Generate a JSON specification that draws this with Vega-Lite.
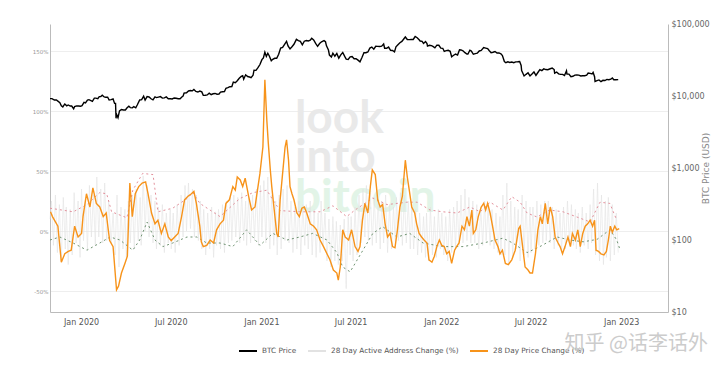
{
"$schema":"https://vega.github.io/schema/vega-lite/v6.json",
"width":618,"height":288,
"autosize":{"type":"none"},
"padding":{"left":50,"top":24,"right":52,"bottom":56},
"background":"white",
"config":{"view":{"stroke":null},"font":"DejaVu Sans"},
"title":{"text":"知乎 @话李话外","orient":"bottom","anchor":"end","frame":"group","font":"Noto Sans CJK SC","fontSize":20,"fontWeight":"normal","color":"#cccccc","dx":40,"dy":-23,"offset":2},
"datasets":{
"wm":[{"t":"look","d":"2021-03-10","v":81.7},{"t":"into","d":"2021-03-10","v":49.2},{"t":"bitcoin","d":"2021-03-10","v":15.8}],
"up":[{"d":"2019-10-30","v":19},{"d":"2019-12-16","v":16},{"d":"2020-01-13","v":22},{"d":"2020-02-08","v":32},{"d":"2020-02-22","v":31},{"d":"2020-03-03","v":16},{"d":"2020-04-03","v":11},{"d":"2020-04-15","v":34},{"d":"2020-05-05","v":48},{"d":"2020-05-26","v":47},{"d":"2020-06-05","v":16},{"d":"2020-07-05","v":19},{"d":"2020-08-03","v":27},{"d":"2020-08-15","v":32},{"d":"2020-08-29","v":23},{"d":"2020-10-09","v":12},{"d":"2020-11-18","v":27},{"d":"2020-12-15","v":32},{"d":"2021-01-12","v":34},{"d":"2021-01-24","v":26},{"d":"2021-02-08","v":17},{"d":"2021-03-20","v":16},{"d":"2021-04-30","v":16},{"d":"2021-05-26","v":21},{"d":"2021-06-23","v":12},{"d":"2021-07-10","v":17.5},{"d":"2021-08-15","v":27.5},{"d":"2021-09-13","v":22},{"d":"2021-10-23","v":24},{"d":"2021-11-13","v":24},{"d":"2021-12-09","v":17.5},{"d":"2022-01-04","v":16},{"d":"2022-02-02","v":15},{"d":"2022-02-28","v":20},{"d":"2022-03-21","v":16},{"d":"2022-04-10","v":24},{"d":"2022-05-06","v":17.5},{"d":"2022-05-24","v":28.6},{"d":"2022-06-10","v":24},{"d":"2022-06-24","v":15},{"d":"2022-07-14","v":11.7},{"d":"2022-08-09","v":17.5},{"d":"2022-09-05","v":16},{"d":"2022-10-03","v":11.7},{"d":"2022-10-30","v":7.5},{"d":"2022-11-19","v":24},{"d":"2022-12-09","v":23},{"d":"2022-12-23","v":9}],
"lo":[{"d":"2019-10-30","v":-7.5},{"d":"2019-11-19","v":-5},{"d":"2019-12-16","v":-10},{"d":"2020-01-13","v":-16},{"d":"2020-02-08","v":-10},{"d":"2020-02-29","v":-5},{"d":"2020-03-20","v":-7.5},{"d":"2020-04-15","v":-16},{"d":"2020-04-29","v":-7.5},{"d":"2020-05-14","v":7.5},{"d":"2020-05-30","v":-7.5},{"d":"2020-06-15","v":-13},{"d":"2020-07-05","v":-10},{"d":"2020-08-03","v":-5},{"d":"2020-08-23","v":-5},{"d":"2020-09-12","v":-10},{"d":"2020-10-09","v":-10},{"d":"2020-11-04","v":-13},{"d":"2020-12-02","v":1},{"d":"2020-12-29","v":-12},{"d":"2021-01-24","v":-2},{"d":"2021-02-22","v":-7.5},{"d":"2021-03-20","v":-5},{"d":"2021-04-15","v":-2},{"d":"2021-05-14","v":-7.5},{"d":"2021-06-03","v":-18},{"d":"2021-06-15","v":-30},{"d":"2021-06-30","v":-34},{"d":"2021-07-26","v":-16},{"d":"2021-08-15","v":-2},{"d":"2021-09-04","v":3.6},{"d":"2021-10-03","v":-5},{"d":"2021-10-29","v":-2},{"d":"2021-11-25","v":-10},{"d":"2022-01-04","v":-13},{"d":"2022-02-14","v":-13},{"d":"2022-03-27","v":-10},{"d":"2022-05-06","v":-6},{"d":"2022-05-26","v":-10},{"d":"2022-06-24","v":-18},{"d":"2022-07-20","v":-13},{"d":"2022-08-24","v":-5},{"d":"2022-09-19","v":-7.5},{"d":"2022-10-16","v":-9},{"d":"2022-11-13","v":-7},{"d":"2022-12-09","v":1},{"d":"2022-12-23","v":-7.5},{"d":"2022-12-30","v":-16}],
"addr":[{"d":"2019-10-30","v":10},
{"d":"2019-11-02","v":25},{"d":"2019-11-06","v":-12},{"d":"2019-11-10","v":30},{"d":"2019-11-14","v":-18},{"d":"2019-11-18","v":22},{"d":"2019-11-22","v":-25},{"d":"2019-11-26","v":28},{"d":"2019-11-30","v":-15},
{"d":"2019-12-02","v":20},{"d":"2019-12-06","v":-28},{"d":"2019-12-10","v":18},{"d":"2019-12-14","v":-20},{"d":"2019-12-18","v":32},{"d":"2019-12-22","v":-10},{"d":"2019-12-26","v":25},{"d":"2019-12-30","v":-22},
{"d":"2020-01-02","v":35},{"d":"2020-01-06","v":-8},{"d":"2020-01-10","v":28},{"d":"2020-01-14","v":-15},{"d":"2020-01-18","v":38},{"d":"2020-01-22","v":-5},{"d":"2020-01-26","v":30},{"d":"2020-01-30","v":-12},
{"d":"2020-02-02","v":45},{"d":"2020-02-06","v":-5},{"d":"2020-02-10","v":35},{"d":"2020-02-14","v":-10},{"d":"2020-02-18","v":40},{"d":"2020-02-22","v":-8},{"d":"2020-02-26","v":25},
{"d":"2020-03-02","v":-10},{"d":"2020-03-06","v":15},{"d":"2020-03-10","v":-20},{"d":"2020-03-14","v":30},{"d":"2020-03-18","v":-30},{"d":"2020-03-22","v":20},{"d":"2020-03-26","v":-15},{"d":"2020-03-30","v":18},
{"d":"2020-04-02","v":-22},{"d":"2020-04-06","v":25},{"d":"2020-04-10","v":-10},{"d":"2020-04-14","v":30},{"d":"2020-04-18","v":-15},{"d":"2020-04-22","v":35},{"d":"2020-04-26","v":-8},{"d":"2020-04-30","v":28},
{"d":"2020-05-02","v":-12},{"d":"2020-05-06","v":46},{"d":"2020-05-10","v":0},{"d":"2020-05-14","v":38},{"d":"2020-05-18","v":-5},{"d":"2020-05-22","v":30},{"d":"2020-05-26","v":-10},{"d":"2020-05-30","v":25},
{"d":"2020-06-02","v":-15},{"d":"2020-06-06","v":20},{"d":"2020-06-10","v":-12},{"d":"2020-06-14","v":22},{"d":"2020-06-18","v":-18},{"d":"2020-06-22","v":15},{"d":"2020-06-26","v":-10},{"d":"2020-06-30","v":18},
{"d":"2020-07-02","v":-15},{"d":"2020-07-06","v":15},{"d":"2020-07-10","v":-18},{"d":"2020-07-14","v":22},{"d":"2020-07-18","v":-12},{"d":"2020-07-22","v":30},{"d":"2020-07-26","v":-5},{"d":"2020-07-30","v":38},
{"d":"2020-08-02","v":0},{"d":"2020-08-06","v":40},{"d":"2020-08-10","v":2},{"d":"2020-08-14","v":35},{"d":"2020-08-18","v":-5},{"d":"2020-08-22","v":30},{"d":"2020-08-26","v":-8},{"d":"2020-08-30","v":25},
{"d":"2020-09-02","v":-15},{"d":"2020-09-06","v":18},{"d":"2020-09-10","v":-20},{"d":"2020-09-14","v":15},{"d":"2020-09-18","v":-15},{"d":"2020-09-22","v":20},{"d":"2020-09-26","v":-22},{"d":"2020-09-30","v":16},
{"d":"2020-10-02","v":-12},{"d":"2020-10-06","v":18},{"d":"2020-10-10","v":-15},{"d":"2020-10-14","v":22},{"d":"2020-10-18","v":-18},{"d":"2020-10-22","v":25},{"d":"2020-10-26","v":-10},{"d":"2020-10-30","v":28},
{"d":"2020-11-02","v":-8},{"d":"2020-11-06","v":30},{"d":"2020-11-10","v":-5},{"d":"2020-11-14","v":28},{"d":"2020-11-18","v":-10},{"d":"2020-11-22","v":32},{"d":"2020-11-26","v":-8},{"d":"2020-11-30","v":25},
{"d":"2020-12-02","v":-12},{"d":"2020-12-06","v":28},{"d":"2020-12-10","v":-10},{"d":"2020-12-14","v":30},{"d":"2020-12-18","v":-8},{"d":"2020-12-22","v":35},{"d":"2020-12-26","v":-12},{"d":"2020-12-30","v":38},
{"d":"2021-01-02","v":-5},{"d":"2021-01-06","v":42},{"d":"2021-01-10","v":-10},{"d":"2021-01-14","v":45},{"d":"2021-01-18","v":-15},{"d":"2021-01-22","v":30},{"d":"2021-01-26","v":-12},{"d":"2021-01-30","v":25},
{"d":"2021-02-02","v":-20},{"d":"2021-02-06","v":30},{"d":"2021-02-10","v":-15},{"d":"2021-02-14","v":35},{"d":"2021-02-18","v":-8},{"d":"2021-02-22","v":38},{"d":"2021-02-26","v":-10},
{"d":"2021-03-02","v":25},{"d":"2021-03-06","v":-18},{"d":"2021-03-10","v":20},{"d":"2021-03-14","v":-15},{"d":"2021-03-18","v":25},{"d":"2021-03-22","v":-20},{"d":"2021-03-26","v":22},{"d":"2021-03-30","v":-12},
{"d":"2021-04-02","v":22},{"d":"2021-04-06","v":-15},{"d":"2021-04-10","v":25},{"d":"2021-04-14","v":-20},{"d":"2021-04-18","v":18},{"d":"2021-04-22","v":-22},{"d":"2021-04-26","v":15},{"d":"2021-04-30","v":-18},
{"d":"2021-05-02","v":25},{"d":"2021-05-06","v":-12},{"d":"2021-05-10","v":15},{"d":"2021-05-14","v":-25},{"d":"2021-05-18","v":10},{"d":"2021-05-22","v":-30},{"d":"2021-05-26","v":12},{"d":"2021-05-30","v":-25},
{"d":"2021-06-02","v":8},{"d":"2021-06-06","v":-28},{"d":"2021-06-10","v":5},{"d":"2021-06-14","v":-25},{"d":"2021-06-18","v":10},{"d":"2021-06-22","v":-48},{"d":"2021-06-26","v":12},{"d":"2021-06-30","v":-20},
{"d":"2021-07-02","v":12},{"d":"2021-07-06","v":-25},{"d":"2021-07-10","v":20},{"d":"2021-07-14","v":-20},{"d":"2021-07-18","v":30},{"d":"2021-07-22","v":-10},{"d":"2021-07-26","v":35},{"d":"2021-07-30","v":-5},
{"d":"2021-08-02","v":38},{"d":"2021-08-06","v":-8},{"d":"2021-08-10","v":32},{"d":"2021-08-14","v":-12},{"d":"2021-08-18","v":28},{"d":"2021-08-22","v":-10},{"d":"2021-08-26","v":25},{"d":"2021-08-30","v":-15},
{"d":"2021-09-02","v":25},{"d":"2021-09-06","v":-10},{"d":"2021-09-10","v":30},{"d":"2021-09-14","v":-18},{"d":"2021-09-18","v":22},{"d":"2021-09-22","v":-15},{"d":"2021-09-26","v":20},{"d":"2021-09-30","v":-12},
{"d":"2021-10-02","v":28},{"d":"2021-10-06","v":-8},{"d":"2021-10-10","v":32},{"d":"2021-10-14","v":-12},{"d":"2021-10-18","v":30},{"d":"2021-10-22","v":-10},{"d":"2021-10-26","v":25},{"d":"2021-10-30","v":-15},
{"d":"2021-11-02","v":20},{"d":"2021-11-06","v":-15},{"d":"2021-11-10","v":18},{"d":"2021-11-14","v":-20},{"d":"2021-11-18","v":15},{"d":"2021-11-22","v":-18},{"d":"2021-11-26","v":12},{"d":"2021-11-30","v":-22},
{"d":"2021-12-02","v":15},{"d":"2021-12-06","v":-25},{"d":"2021-12-10","v":20},{"d":"2021-12-14","v":-20},{"d":"2021-12-18","v":12},{"d":"2021-12-22","v":-22},{"d":"2021-12-26","v":18},{"d":"2021-12-30","v":-15},
{"d":"2022-01-02","v":15},{"d":"2022-01-06","v":-20},{"d":"2022-01-10","v":12},{"d":"2022-01-14","v":-25},{"d":"2022-01-18","v":18},{"d":"2022-01-22","v":-18},{"d":"2022-01-26","v":20},{"d":"2022-01-30","v":-15},
{"d":"2022-02-02","v":25},{"d":"2022-02-06","v":-12},{"d":"2022-02-10","v":30},{"d":"2022-02-14","v":-10},{"d":"2022-02-18","v":35},{"d":"2022-02-22","v":-8},{"d":"2022-02-26","v":28},
{"d":"2022-03-02","v":-10},{"d":"2022-03-06","v":25},{"d":"2022-03-10","v":-10},{"d":"2022-03-14","v":22},{"d":"2022-03-18","v":-15},{"d":"2022-03-22","v":20},{"d":"2022-03-26","v":-12},{"d":"2022-03-30","v":25},
{"d":"2022-04-02","v":-8},{"d":"2022-04-06","v":20},{"d":"2022-04-10","v":-12},{"d":"2022-04-14","v":18},{"d":"2022-04-18","v":-15},{"d":"2022-04-22","v":15},{"d":"2022-04-26","v":-18},{"d":"2022-04-30","v":12},
{"d":"2022-05-02","v":-20},{"d":"2022-05-06","v":30},{"d":"2022-05-10","v":-20},{"d":"2022-05-14","v":40},{"d":"2022-05-18","v":-28},{"d":"2022-05-22","v":25},{"d":"2022-05-26","v":-22},{"d":"2022-05-30","v":20},
{"d":"2022-06-02","v":-15},{"d":"2022-06-06","v":18},{"d":"2022-06-10","v":-25},{"d":"2022-06-14","v":30},{"d":"2022-06-18","v":-20},{"d":"2022-06-22","v":25},{"d":"2022-06-26","v":-22},{"d":"2022-06-30","v":20},
{"d":"2022-07-02","v":-18},{"d":"2022-07-06","v":20},{"d":"2022-07-10","v":-15},{"d":"2022-07-14","v":25},{"d":"2022-07-18","v":-12},{"d":"2022-07-22","v":22},{"d":"2022-07-26","v":-10},{"d":"2022-07-30","v":25},
{"d":"2022-08-02","v":-8},{"d":"2022-08-06","v":25},{"d":"2022-08-10","v":-10},{"d":"2022-08-14","v":20},{"d":"2022-08-18","v":-15},{"d":"2022-08-22","v":18},{"d":"2022-08-26","v":-12},{"d":"2022-08-30","v":15},
{"d":"2022-09-02","v":-18},{"d":"2022-09-06","v":20},{"d":"2022-09-10","v":-15},{"d":"2022-09-14","v":25},{"d":"2022-09-18","v":-10},{"d":"2022-09-22","v":22},{"d":"2022-09-26","v":-12},{"d":"2022-09-30","v":18},
{"d":"2022-10-02","v":-15},{"d":"2022-10-06","v":15},{"d":"2022-10-10","v":-18},{"d":"2022-10-14","v":20},{"d":"2022-10-18","v":-12},{"d":"2022-10-22","v":15},{"d":"2022-10-26","v":-15},{"d":"2022-10-30","v":22},
{"d":"2022-11-02","v":-10},{"d":"2022-11-06","v":35},{"d":"2022-11-10","v":-20},{"d":"2022-11-14","v":40},{"d":"2022-11-18","v":-25},{"d":"2022-11-22","v":30},{"d":"2022-11-26","v":-28},{"d":"2022-11-30","v":25},
{"d":"2022-12-02","v":-22},{"d":"2022-12-06","v":28},{"d":"2022-12-10","v":-25},{"d":"2022-12-14","v":22},{"d":"2022-12-18","v":-20},{"d":"2022-12-22","v":15},{"d":"2022-12-26","v":-18}],
"price":[{"d":"2019-10-31","v":16},{"d":"2019-11-04","v":12},{"d":"2019-11-08","v":9},{"d":"2019-11-15","v":4},{"d":"2019-11-22","v":-26},{"d":"2019-11-29","v":-19},{"d":"2019-12-06","v":-17},{"d":"2019-12-12","v":-16},{"d":"2019-12-19","v":4},{"d":"2019-12-26","v":-5},{"d":"2020-01-02","v":-2},{"d":"2020-01-05","v":12},{"d":"2020-01-12","v":31},{"d":"2020-01-19","v":20},{"d":"2020-01-25","v":36},{"d":"2020-02-01","v":23},{"d":"2020-02-08","v":20},{"d":"2020-02-15","v":12},{"d":"2020-02-21","v":15},{"d":"2020-02-28","v":-8},{"d":"2020-03-06","v":-13},{"d":"2020-03-13","v":-49},{"d":"2020-03-17","v":-46},{"d":"2020-03-23","v":-35},{"d":"2020-03-30","v":-27},{"d":"2020-04-04","v":-21},{"d":"2020-04-09","v":40},{"d":"2020-04-14","v":12},{"d":"2020-04-20","v":31},{"d":"2020-04-27","v":37},{"d":"2020-05-04","v":40},{"d":"2020-05-11","v":41},{"d":"2020-05-16","v":31},{"d":"2020-05-23","v":15},{"d":"2020-05-30","v":6},{"d":"2020-06-05","v":9},{"d":"2020-06-12","v":-2},{"d":"2020-06-19","v":6},{"d":"2020-06-26","v":-5},{"d":"2020-07-02","v":-8},{"d":"2020-07-09","v":-5},{"d":"2020-07-16","v":-2},{"d":"2020-07-23","v":12},{"d":"2020-07-29","v":26},{"d":"2020-08-05","v":29},{"d":"2020-08-12","v":31},{"d":"2020-08-17","v":33},{"d":"2020-08-22","v":23},{"d":"2020-08-29","v":4},{"d":"2020-09-01","v":-9},{"d":"2020-09-05","v":-13},{"d":"2020-09-12","v":-12},{"d":"2020-09-19","v":-7.5},{"d":"2020-09-26","v":-10},{"d":"2020-10-02","v":1},{"d":"2020-10-09","v":6},{"d":"2020-10-16","v":9},{"d":"2020-10-21","v":23},{"d":"2020-10-28","v":26},{"d":"2020-11-04","v":37},{"d":"2020-11-09","v":34},{"d":"2020-11-13","v":45},{"d":"2020-11-19","v":42.5},{"d":"2020-11-24","v":37},{"d":"2020-11-29","v":44},{"d":"2020-12-06","v":29},{"d":"2020-12-12","v":17.5},{"d":"2020-12-19","v":20},{"d":"2020-12-24","v":34},{"d":"2020-12-29","v":48},{"d":"2021-01-04","v":70},{"d":"2021-01-08","v":126},{"d":"2021-01-12","v":92},{"d":"2021-01-15","v":73},{"d":"2021-01-19","v":51},{"d":"2021-01-22","v":37},{"d":"2021-01-27","v":17.5},{"d":"2021-02-01","v":-2},{"d":"2021-02-04","v":-5},{"d":"2021-02-08","v":26},{"d":"2021-02-13","v":48},{"d":"2021-02-18","v":70},{"d":"2021-02-21","v":76},{"d":"2021-02-25","v":59},{"d":"2021-02-28","v":37},{"d":"2021-03-04","v":31},{"d":"2021-03-08","v":26},{"d":"2021-03-14","v":15},{"d":"2021-03-19","v":12},{"d":"2021-03-24","v":19},{"d":"2021-03-29","v":20},{"d":"2021-04-03","v":15},{"d":"2021-04-10","v":6},{"d":"2021-04-17","v":4},{"d":"2021-04-23","v":1},{"d":"2021-04-30","v":-7.5},{"d":"2021-05-07","v":-13},{"d":"2021-05-14","v":-19},{"d":"2021-05-20","v":-24},{"d":"2021-05-27","v":-32.5},{"d":"2021-06-03","v":-35},{"d":"2021-06-06","v":-41},{"d":"2021-06-10","v":-30},{"d":"2021-06-15","v":1},{"d":"2021-06-20","v":-5},{"d":"2021-06-27","v":-7.5},{"d":"2021-07-03","v":1},{"d":"2021-07-10","v":-13},{"d":"2021-07-16","v":-17},{"d":"2021-07-20","v":-13},{"d":"2021-07-25","v":9},{"d":"2021-07-30","v":23},{"d":"2021-08-05","v":15},{"d":"2021-08-10","v":37},{"d":"2021-08-14","v":51},{"d":"2021-08-20","v":47},{"d":"2021-08-25","v":26},{"d":"2021-08-30","v":20},{"d":"2021-09-04","v":22},{"d":"2021-09-09","v":6},{"d":"2021-09-14","v":-5},{"d":"2021-09-19","v":-2},{"d":"2021-09-24","v":-13},{"d":"2021-09-29","v":-14},{"d":"2021-10-04","v":1},{"d":"2021-10-09","v":20},{"d":"2021-10-14","v":29},{"d":"2021-10-20","v":59},{"d":"2021-10-24","v":45},{"d":"2021-10-28","v":34},{"d":"2021-11-02","v":20},{"d":"2021-11-08","v":15},{"d":"2021-11-12","v":6},{"d":"2021-11-17","v":-2},{"d":"2021-11-22","v":-5},{"d":"2021-11-27","v":-7.5},{"d":"2021-12-03","v":-10},{"d":"2021-12-07","v":-24},{"d":"2021-12-13","v":-26},{"d":"2021-12-18","v":-21},{"d":"2021-12-23","v":-13},{"d":"2021-12-28","v":-7.5},{"d":"2022-01-02","v":-12},{"d":"2022-01-07","v":-13},{"d":"2022-01-12","v":-19},{"d":"2022-01-17","v":-17},{"d":"2022-01-22","v":-27},{"d":"2022-01-28","v":-16},{"d":"2022-02-01","v":-13},{"d":"2022-02-06","v":-10},{"d":"2022-02-12","v":4},{"d":"2022-02-17","v":1},{"d":"2022-02-22","v":12},{"d":"2022-02-27","v":4},{"d":"2022-03-04","v":17.5},{"d":"2022-03-07","v":-2},{"d":"2022-03-12","v":1},{"d":"2022-03-17","v":12},{"d":"2022-03-23","v":20},{"d":"2022-03-28","v":23},{"d":"2022-04-01","v":17.5},{"d":"2022-04-05","v":23},{"d":"2022-04-10","v":15},{"d":"2022-04-15","v":4},{"d":"2022-04-20","v":-7.5},{"d":"2022-04-26","v":-13},{"d":"2022-04-30","v":-19},{"d":"2022-05-05","v":-16},{"d":"2022-05-11","v":-27},{"d":"2022-05-17","v":-28},{"d":"2022-05-24","v":-24},{"d":"2022-05-31","v":-16},{"d":"2022-06-07","v":2},{"d":"2022-06-10","v":4},{"d":"2022-06-15","v":-13},{"d":"2022-06-20","v":-30},{"d":"2022-06-26","v":-32.5},{"d":"2022-06-30","v":-35},{"d":"2022-07-05","v":-35},{"d":"2022-07-11","v":-19},{"d":"2022-07-16","v":1},{"d":"2022-07-21","v":12},{"d":"2022-07-25","v":6},{"d":"2022-07-31","v":23},{"d":"2022-08-05","v":6},{"d":"2022-08-10","v":20},{"d":"2022-08-15","v":12},{"d":"2022-08-20","v":-5},{"d":"2022-08-26","v":-10},{"d":"2022-08-30","v":-13},{"d":"2022-09-04","v":-19},{"d":"2022-09-09","v":-13},{"d":"2022-09-15","v":-5},{"d":"2022-09-20","v":-13},{"d":"2022-09-24","v":-2},{"d":"2022-09-30","v":-7.5},{"d":"2022-10-05","v":1},{"d":"2022-10-10","v":-13},{"d":"2022-10-15","v":-2},{"d":"2022-10-20","v":4},{"d":"2022-10-25","v":6},{"d":"2022-10-30","v":9},{"d":"2022-11-04","v":4},{"d":"2022-11-08","v":9},{"d":"2022-11-11","v":-16},{"d":"2022-11-16","v":-17},{"d":"2022-11-21","v":-19},{"d":"2022-11-27","v":-20},{"d":"2022-12-02","v":-17},{"d":"2022-12-06","v":-7.5},{"d":"2022-12-10","v":4},{"d":"2022-12-14","v":-1},{"d":"2022-12-19","v":4},{"d":"2022-12-23","v":1},{"d":"2022-12-28","v":2}],
"btc":[{"d":"2019-10-30","v":9200},{"d":"2019-11-03","v":9200},{"d":"2019-11-08","v":8800},{"d":"2019-11-12","v":8800},{"d":"2019-11-15","v":8500},{"d":"2019-11-19","v":8100},{"d":"2019-11-22","v":7300},{"d":"2019-11-25","v":7050},{"d":"2019-11-29","v":7750},{"d":"2019-12-03","v":7300},{"d":"2019-12-06","v":7500},{"d":"2019-12-10","v":7250},{"d":"2019-12-13","v":7250},{"d":"2019-12-17","v":6650},{"d":"2019-12-19","v":7150},{"d":"2019-12-23","v":7300},{"d":"2019-12-27","v":7250},{"d":"2019-12-31","v":7200},{"d":"2020-01-03","v":7350},{"d":"2020-01-07","v":8150},{"d":"2020-01-10","v":8000},{"d":"2020-01-14","v":8800},{"d":"2020-01-17","v":8900},{"d":"2020-01-21","v":8650},{"d":"2020-01-24","v":8450},{"d":"2020-01-28","v":9350},{"d":"2020-01-31","v":9350},{"d":"2020-02-04","v":9180},{"d":"2020-02-07","v":9800},{"d":"2020-02-10","v":9850},{"d":"2020-02-13","v":10250},{"d":"2020-02-17","v":9700},{"d":"2020-02-20","v":9600},{"d":"2020-02-24","v":9650},{"d":"2020-02-27","v":8800},{"d":"2020-03-02","v":8900},{"d":"2020-03-06","v":9100},{"d":"2020-03-09","v":7900},{"d":"2020-03-11","v":7900},{"d":"2020-03-12","v":4900},{"d":"2020-03-13","v":5600},{"d":"2020-03-16","v":5000},{"d":"2020-03-19","v":6200},{"d":"2020-03-23","v":6500},{"d":"2020-03-27","v":6400},{"d":"2020-03-31","v":6400},{"d":"2020-04-03","v":6800},{"d":"2020-04-07","v":7200},{"d":"2020-04-10","v":6900},{"d":"2020-04-14","v":6850},{"d":"2020-04-17","v":7100},{"d":"2020-04-21","v":6850},{"d":"2020-04-24","v":7500},{"d":"2020-04-29","v":8800},{"d":"2020-05-03","v":8900},{"d":"2020-05-07","v":9950},{"d":"2020-05-10","v":8750},{"d":"2020-05-14","v":9800},{"d":"2020-05-18","v":9700},{"d":"2020-05-22","v":9150},{"d":"2020-05-26","v":8850},{"d":"2020-05-30","v":9700},{"d":"2020-06-02","v":9500},{"d":"2020-06-06","v":9650},{"d":"2020-06-10","v":9800},{"d":"2020-06-14","v":9350},{"d":"2020-06-18","v":9400},{"d":"2020-06-22","v":9700},{"d":"2020-06-26","v":9150},{"d":"2020-06-30","v":9150},{"d":"2020-07-04","v":9100},{"d":"2020-07-08","v":9400},{"d":"2020-07-12","v":9300},{"d":"2020-07-16","v":9150},{"d":"2020-07-20","v":9150},{"d":"2020-07-23","v":9600},{"d":"2020-07-26","v":9950},{"d":"2020-07-28","v":10950},{"d":"2020-08-02","v":11100},{"d":"2020-08-06","v":11750},{"d":"2020-08-10","v":11900},{"d":"2020-08-14","v":11800},{"d":"2020-08-17","v":12300},{"d":"2020-08-21","v":11550},{"d":"2020-08-25","v":11350},{"d":"2020-08-29","v":11700},{"d":"2020-09-02","v":11400},{"d":"2020-09-05","v":10200},{"d":"2020-09-09","v":10250},{"d":"2020-09-13","v":10350},{"d":"2020-09-17","v":10950},{"d":"2020-09-21","v":10450},{"d":"2020-09-25","v":10750},{"d":"2020-09-29","v":10850},{"d":"2020-10-03","v":10600},{"d":"2020-10-07","v":10650},{"d":"2020-10-10","v":11300},{"d":"2020-10-14","v":11450},{"d":"2020-10-18","v":11500},{"d":"2020-10-21","v":12800},{"d":"2020-10-25","v":13050},{"d":"2020-10-29","v":13450},{"d":"2020-11-02","v":13550},{"d":"2020-11-05","v":15600},{"d":"2020-11-09","v":15300},{"d":"2020-11-13","v":16300},{"d":"2020-11-17","v":17650},{"d":"2020-11-21","v":18700},{"d":"2020-11-24","v":19150},{"d":"2020-11-26","v":17100},{"d":"2020-11-30","v":19700},{"d":"2020-12-04","v":18650},{"d":"2020-12-08","v":18350},{"d":"2020-12-11","v":18000},{"d":"2020-12-15","v":19400},{"d":"2020-12-17","v":22800},{"d":"2020-12-21","v":22700},{"d":"2020-12-25","v":24700},{"d":"2020-12-29","v":27350},{"d":"2021-01-02","v":32000},{"d":"2021-01-05","v":33900},{"d":"2021-01-08","v":40600},{"d":"2021-01-11","v":35500},{"d":"2021-01-14","v":39200},{"d":"2021-01-17","v":36000},{"d":"2021-01-21","v":30800},{"d":"2021-01-24","v":32300},{"d":"2021-01-28","v":33400},{"d":"2021-02-01","v":33500},{"d":"2021-02-05","v":38000},{"d":"2021-02-09","v":46400},{"d":"2021-02-13","v":47200},{"d":"2021-02-17","v":52100},{"d":"2021-02-21","v":57500},{"d":"2021-02-24","v":49700},{"d":"2021-02-28","v":45100},{"d":"2021-03-04","v":48400},{"d":"2021-03-08","v":52300},{"d":"2021-03-13","v":61200},{"d":"2021-03-17","v":58900},{"d":"2021-03-21","v":57300},{"d":"2021-03-25","v":51300},{"d":"2021-03-29","v":57700},{"d":"2021-04-02","v":59000},{"d":"2021-04-06","v":58000},{"d":"2021-04-10","v":59800},{"d":"2021-04-13","v":63500},{"d":"2021-04-17","v":60000},{"d":"2021-04-21","v":53800},{"d":"2021-04-25","v":49000},{"d":"2021-04-29","v":53600},{"d":"2021-05-03","v":56600},{"d":"2021-05-08","v":58800},{"d":"2021-05-11","v":56700},{"d":"2021-05-13","v":49700},{"d":"2021-05-17","v":43500},{"d":"2021-05-19","v":37000},{"d":"2021-05-23","v":34700},{"d":"2021-05-26","v":39300},{"d":"2021-05-30","v":35700},{"d":"2021-06-03","v":39100},{"d":"2021-06-07","v":33500},{"d":"2021-06-11","v":37300},{"d":"2021-06-15","v":40200},{"d":"2021-06-19","v":35500},{"d":"2021-06-22","v":32500},{"d":"2021-06-26","v":32200},{"d":"2021-06-30","v":35000},{"d":"2021-07-04","v":35300},{"d":"2021-07-08","v":32900},{"d":"2021-07-12","v":33000},{"d":"2021-07-16","v":31500},{"d":"2021-07-20","v":29800},{"d":"2021-07-24","v":34300},{"d":"2021-07-28","v":40000},{"d":"2021-08-01","v":39900},{"d":"2021-08-05","v":40900},{"d":"2021-08-09","v":46300},{"d":"2021-08-13","v":47800},{"d":"2021-08-17","v":44700},{"d":"2021-08-21","v":49000},{"d":"2021-08-25","v":48900},{"d":"2021-08-29","v":48800},{"d":"2021-09-02","v":49300},{"d":"2021-09-06","v":52700},{"d":"2021-09-08","v":46100},{"d":"2021-09-12","v":46000},{"d":"2021-09-16","v":47800},{"d":"2021-09-20","v":43000},{"d":"2021-09-24","v":42800},{"d":"2021-09-28","v":41000},{"d":"2021-10-01","v":48200},{"d":"2021-10-05","v":51500},{"d":"2021-10-09","v":54900},{"d":"2021-10-13","v":57300},{"d":"2021-10-16","v":60900},{"d":"2021-10-20","v":66000},{"d":"2021-10-24","v":60900},{"d":"2021-10-28","v":60600},{"d":"2021-11-01","v":61000},{"d":"2021-11-05","v":61000},{"d":"2021-11-09","v":67000},{"d":"2021-11-13","v":64400},{"d":"2021-11-17","v":60300},{"d":"2021-11-19","v":58100},{"d":"2021-11-23","v":57500},{"d":"2021-11-26","v":53600},{"d":"2021-11-30","v":57000},{"d":"2021-12-03","v":53600},{"d":"2021-12-04","v":49300},{"d":"2021-12-08","v":50600},{"d":"2021-12-12","v":50100},{"d":"2021-12-15","v":48900},{"d":"2021-12-19","v":46700},{"d":"2021-12-23","v":50800},{"d":"2021-12-27","v":50700},{"d":"2021-12-31","v":46300},{"d":"2022-01-04","v":46000},{"d":"2022-01-07","v":41600},{"d":"2022-01-11","v":42700},{"d":"2022-01-15","v":43100},{"d":"2022-01-19","v":41700},{"d":"2022-01-22","v":35100},{"d":"2022-01-26","v":36800},{"d":"2022-01-30","v":38200},{"d":"2022-02-03","v":37000},{"d":"2022-02-07","v":43800},{"d":"2022-02-10","v":43600},{"d":"2022-02-14","v":42500},{"d":"2022-02-18","v":40000},{"d":"2022-02-22","v":38300},{"d":"2022-02-24","v":38300},{"d":"2022-02-28","v":43200},{"d":"2022-03-03","v":42000},{"d":"2022-03-07","v":38000},{"d":"2022-03-11","v":38800},{"d":"2022-03-15","v":39300},{"d":"2022-03-19","v":42200},{"d":"2022-03-23","v":42900},{"d":"2022-03-28","v":47100},{"d":"2022-04-01","v":46300},{"d":"2022-04-05","v":45500},{"d":"2022-04-08","v":42800},{"d":"2022-04-12","v":40000},{"d":"2022-04-16","v":40500},{"d":"2022-04-20","v":41500},{"d":"2022-04-24","v":39500},{"d":"2022-04-28","v":39700},{"d":"2022-05-02","v":38500},{"d":"2022-05-05","v":36500},{"d":"2022-05-09","v":30100},{"d":"2022-05-12","v":29000},{"d":"2022-05-16","v":29800},{"d":"2022-05-20","v":29200},{"d":"2022-05-24","v":29600},{"d":"2022-05-28","v":29000},{"d":"2022-06-01","v":29800},{"d":"2022-06-05","v":29900},{"d":"2022-06-09","v":30100},{"d":"2022-06-12","v":26600},{"d":"2022-06-13","v":22500},{"d":"2022-06-16","v":20400},{"d":"2022-06-18","v":19000},{"d":"2022-06-22","v":20000},{"d":"2022-06-26","v":21000},{"d":"2022-06-30","v":19000},{"d":"2022-07-04","v":20200},{"d":"2022-07-08","v":21600},{"d":"2022-07-12","v":19300},{"d":"2022-07-16","v":21200},{"d":"2022-07-20","v":23200},{"d":"2022-07-24","v":22500},{"d":"2022-07-28","v":23800},{"d":"2022-08-01","v":23300},{"d":"2022-08-05","v":23200},{"d":"2022-08-10","v":23900},{"d":"2022-08-14","v":24400},{"d":"2022-08-18","v":23300},{"d":"2022-08-19","v":20800},{"d":"2022-08-23","v":21500},{"d":"2022-08-27","v":20300},{"d":"2022-08-31","v":20000},{"d":"2022-09-04","v":19950},{"d":"2022-09-08","v":19300},{"d":"2022-09-12","v":22400},{"d":"2022-09-13","v":20200},{"d":"2022-09-17","v":20100},{"d":"2022-09-21","v":18500},{"d":"2022-09-25","v":18800},{"d":"2022-09-29","v":19500},{"d":"2022-10-03","v":19600},{"d":"2022-10-07","v":19500},{"d":"2022-10-11","v":19000},{"d":"2022-10-15","v":19100},{"d":"2022-10-19","v":19100},{"d":"2022-10-23","v":19500},{"d":"2022-10-26","v":20800},{"d":"2022-10-30","v":20600},{"d":"2022-11-03","v":20200},{"d":"2022-11-05","v":21300},{"d":"2022-11-08","v":18500},{"d":"2022-11-09","v":15900},{"d":"2022-11-13","v":16300},{"d":"2022-11-17","v":16700},{"d":"2022-11-21","v":15800},{"d":"2022-11-25","v":16500},{"d":"2022-11-29","v":16400},{"d":"2022-12-03","v":17000},{"d":"2022-12-07","v":16800},{"d":"2022-12-11","v":17100},{"d":"2022-12-14","v":17800},{"d":"2022-12-17","v":16800},{"d":"2022-12-21","v":16800},{"d":"2022-12-26","v":16900}]
},
"encoding":{"x":{"field":"d","type":"temporal","scale":{"type":"utc","domain":[{"year":2019,"month":10,"date":30,"utc":true},{"year":2023,"month":4,"date":6,"utc":true}]},"axis":{"title":null,"values":[{"year":2020,"month":1,"date":1,"utc":true},{"year":2020,"month":7,"date":1,"utc":true},{"year":2021,"month":1,"date":1,"utc":true},{"year":2021,"month":7,"date":1,"utc":true},{"year":2022,"month":1,"date":1,"utc":true},{"year":2022,"month":7,"date":1,"utc":true},{"year":2023,"month":1,"date":1,"utc":true}],"format":"%b %Y","labelFontSize":8,"labelColor":"#555555","ticks":false,"grid":false,"domainColor":"#bbbbbb","labelPadding":6}}},
"layer":[
{"encoding":{"y":{"field":"v","type":"quantitative","scale":{"domain":[-67.5,172.5],"nice":false,"zero":false},"axis":{"orient":"left","title":null,"values":[-50,0,50,100,150],"labelExpr":"datum.value + '%'","ticks":false,"labelFontSize":5.5,"labelColor":"#999999","domainColor":"#bbbbbb","grid":true,"gridColor":"#eeeeee","labelPadding":2}}},
"layer":[
{"data":{"name":"wm"},"mark":{"type":"text","align":"left","baseline":"alphabetic","font":"Lato","fontWeight":"bold","fontSize":46},"encoding":{"text":{"field":"t"},"color":{"condition":{"test":"datum.t == 'bitcoin'","value":"#e2f4e7"},"value":"#e9e9e9"}}},
{"data":{"name":"addr"},"mark":{"type":"line","strokeWidth":0.6},"encoding":{"color":{"datum":"28 Day Active Address Change (%)","scale":{"domain":["BTC Price","28 Day Active Address Change (%)","28 Day Price Change (%)"],"range":["#000000","#e2e2e2","#f7931a"]}}}},
{"data":{"name":"up"},"mark":{"type":"line","color":"#e3909b","strokeDash":[2,3],"strokeWidth":1},"encoding":{}},
{"data":{"name":"lo"},"mark":{"type":"line","color":"#6f9371","strokeDash":[2,3],"strokeWidth":1},"encoding":{}},
{"data":{"name":"price"},"mark":{"type":"line","strokeWidth":1.4},"encoding":{"color":{"datum":"28 Day Price Change (%)","scale":{"domain":["BTC Price","28 Day Active Address Change (%)","28 Day Price Change (%)"],"range":["#000000","#e2e2e2","#f7931a"]}}}}
]},
{"data":{"name":"btc"},"mark":{"type":"line","strokeWidth":1.4},"encoding":{"y":{"field":"v","type":"quantitative","scale":{"type":"log","domain":[10,100000],"nice":false},"axis":{"orient":"right","title":"BTC Price (USD)","titleFontSize":9,"titleFontWeight":"normal","titleColor":"#888888","titleAngle":270,"titleX":37,"titleY":144,"titleAlign":"center","titleBaseline":"middle","values":[10,100,1000,10000,100000],"format":"$,d","grid":false,"ticks":false,"labelFontSize":8,"labelColor":"#666666","domainColor":"#bbbbbb","labelPadding":3}},
"color":{"datum":"BTC Price","scale":{"domain":["BTC Price","28 Day Active Address Change (%)","28 Day Price Change (%)"],"range":["#000000","#e2e2e2","#f7931a"]},"legend":{"orient":"none","legendX":188,"legendY":317,"direction":"horizontal","title":null,"symbolType":"stroke","symbolStrokeWidth":2,"symbolSize":324,"labelFontSize":7.3,"labelColor":"#555555","columnPadding":7,"labelOffset":4}}}}
],
"resolve":{"scale":{"y":"independent"}}
}
